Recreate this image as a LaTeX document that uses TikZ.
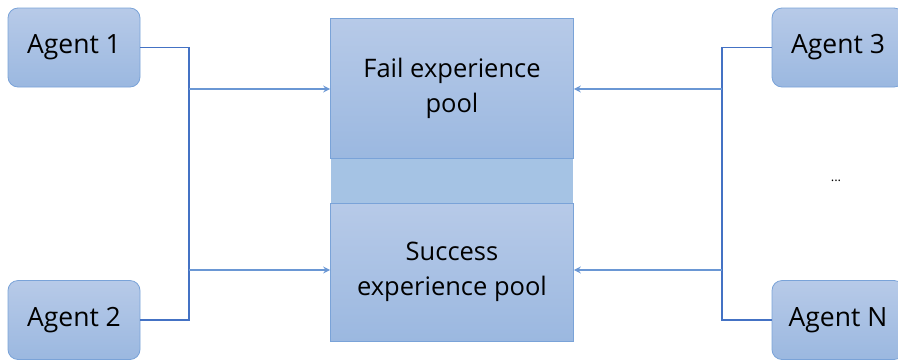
\documentclass[tikz,border=0pt]{standalone}
\usepackage{fontspec}
\setmainfont{Open Sans}
\usetikzlibrary{arrows.meta}
\definecolor{boxtop}{HTML}{B7CAE8}
\definecolor{boxbot}{HTML}{9BB8E0}
\definecolor{boxedge}{HTML}{7AA3D8}
\definecolor{band}{HTML}{A5C3E4}
\definecolor{linedark}{HTML}{4472C4}
\definecolor{linelight}{HTML}{6A97D4}
\begin{document}
\begin{tikzpicture}[x=1pt,y=-1pt,
  agentbox/.style={draw=boxedge, line width=0.8pt, rounded corners=10pt, top color=boxtop, bottom color=boxbot, minimum width=132pt, minimum height=79pt, inner sep=0pt, font=\fontsize{26.5}{30}\selectfont},
  poolbox/.style={draw=boxedge, line width=0.8pt, top color=boxtop, bottom color=boxbot, minimum width=243pt, minimum height=140pt, inner sep=0pt, align=center, font=\fontsize{25.5}{35}\selectfont},
  bus/.style={draw=linedark, line width=1.8pt},
  feed/.style={draw=linelight, line width=1.2pt, -{Stealth[length=7pt,width=7pt,inset=2.5pt]}}
]
\useasboundingbox (0,0) rectangle (898,360);
% middle band
\fill[band] (331,158) rectangle (573,203);
\node[poolbox] (fail) at (452,88) {Fail experience\\pool};
\node[poolbox, minimum height=138pt] (succ) at (452,272) {Success\\experience pool};
\node[agentbox] (a1) at (74,47.5) {Agent 1};
\node[agentbox] (a2) at (74,320) {Agent 2};
\node[agentbox] (a3) at (838,47.5) {Agent 3};
\node[agentbox] (aN) at (838,320) {Agent N};
\node[font=\fontsize{13}{15}\selectfont] (dots) at (836,181) {...};
% left bus
\coordinate (l1) at (189,47.5);
\coordinate (l2) at (189,320);
\coordinate (lf) at (189,89);
\coordinate (ls) at (189,270);
\draw[bus] (a1.east) -- (l1) -- (l2) -- (a2.east);
\draw[feed] (lf) -- (lf -| fail.west);
\draw[feed] (ls) -- (ls -| succ.west);
% right bus
\coordinate (r1) at (722,47.5);
\coordinate (r2) at (722,320);
\coordinate (rf) at (722,89);
\coordinate (rs) at (722,270);
\draw[bus] (a3.west) -- (r1) -- (r2) -- (aN.west);
\draw[feed] (rf) -- (rf -| fail.east);
\draw[feed] (rs) -- (rs -| succ.east);
\end{tikzpicture}
\end{document}
